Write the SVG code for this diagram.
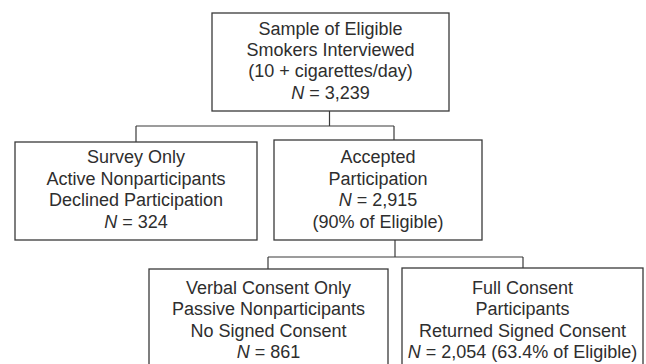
<svg xmlns="http://www.w3.org/2000/svg" width="646" height="364" viewBox="0 0 646 364">
<style>
rect.box{fill:#fff;stroke:#3a3a3a;stroke-width:1.3}
.conn line{stroke:#3a3a3a;stroke-width:1.2}
text{font-family:"Liberation Sans",Arial,sans-serif;font-size:18px;fill:#2e2e2e;text-anchor:middle}
.i{font-style:italic}
</style>
<rect width="646" height="364" fill="#fff"/>
<g class="conn" id="connectors">
<line x1="329.5" y1="111" x2="329.5" y2="126"/>
<line x1="136" y1="126" x2="394" y2="126"/>
<line x1="136" y1="126" x2="136" y2="142"/>
<line x1="394" y1="126" x2="394" y2="140"/>
<line x1="395" y1="240" x2="395" y2="257"/>
<line x1="268" y1="257" x2="523" y2="257"/>
<line x1="268" y1="257" x2="268" y2="269"/>
<line x1="523" y1="257" x2="523" y2="268"/>
</g>
<g id="top">
<rect class="box" x="212" y="13" width="237" height="98"/>
<text x="330.5" y="35">Sample of Eligible</text>
<text x="330.5" y="56">Smokers Interviewed</text>
<text x="330.5" y="77">(10 + cigarettes/day)</text>
<text x="330.5" y="99"><tspan class="i">N</tspan> = 3,239</text>
</g>
<g id="survey">
<rect class="box" x="15" y="142" width="242" height="98"/>
<text x="136" y="163">Survey Only</text>
<text x="136" y="185">Active Nonparticipants</text>
<text x="136" y="206">Declined Participation</text>
<text x="136" y="228"><tspan class="i">N</tspan> = 324</text>
</g>
<g id="accepted">
<rect class="box" x="274" y="140" width="208" height="100"/>
<text x="378" y="163">Accepted</text>
<text x="378" y="185">Participation</text>
<text x="378" y="206"><tspan class="i">N</tspan> = 2,915</text>
<text x="378" y="228">(90% of Eligible)</text>
</g>
<g id="verbal">
<rect class="box" x="149" y="269" width="239" height="100"/>
<text x="268.5" y="294">Verbal Consent Only</text>
<text x="268.5" y="315">Passive Nonparticipants</text>
<text x="268.5" y="337">No Signed Consent</text>
<text x="268.5" y="358"><tspan class="i">N</tspan> = 861</text>
</g>
<g id="full">
<rect class="box" x="402" y="268" width="241" height="101"/>
<text x="522.5" y="294">Full Consent</text>
<text x="522.5" y="315">Participants</text>
<text x="522.5" y="337">Returned Signed Consent</text>
<text x="522.5" y="358"><tspan class="i">N</tspan> = 2,054 (63.4% of Eligible)</text>
</g>
</svg>
